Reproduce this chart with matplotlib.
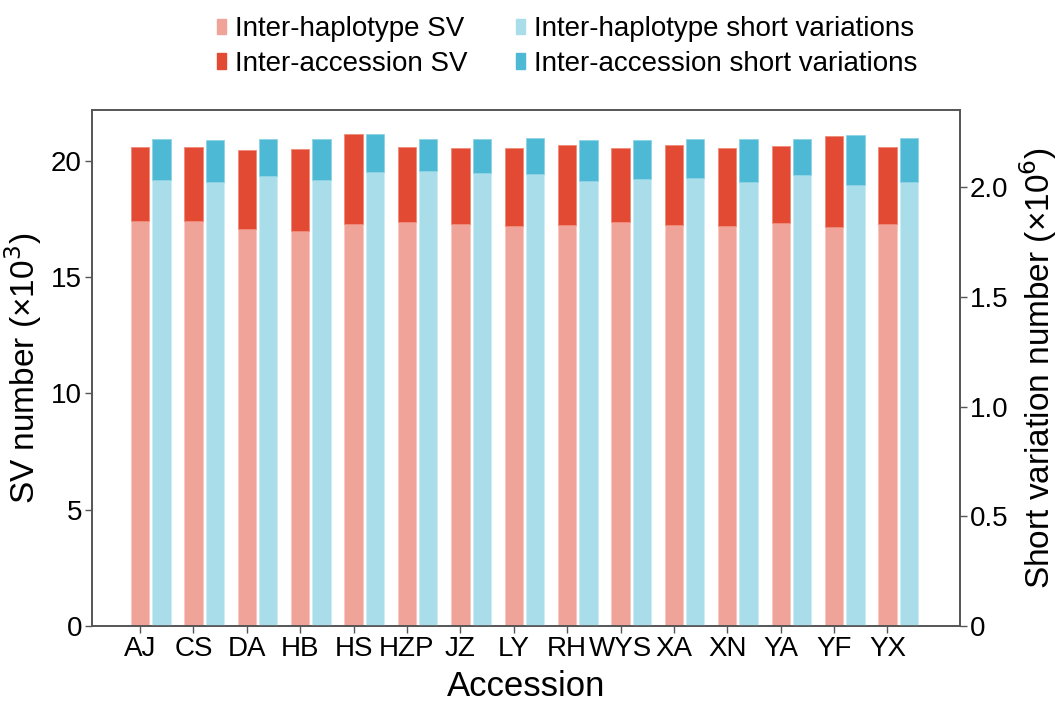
import matplotlib
matplotlib.use("Agg")
import matplotlib.pyplot as plt
import numpy as np
from matplotlib.patches import Patch

plt.rcParams['font.family'] = ['Liberation Sans', 'DejaVu Sans']

accessions = ["AJ", "CS", "DA", "HB", "HS", "HZP", "JZ", "LY", "RH", "WYS", "XA", "XN", "YA", "YF", "YX"]
# SV numbers (x10^3)
sv_total = [20.60, 20.58, 20.44, 20.51, 21.13, 20.57, 20.54, 20.54, 20.66, 20.54, 20.67, 20.54, 20.63, 21.06, 20.57]
sv_haplotype = [17.42, 17.40, 17.05, 17.00, 17.28, 17.35, 17.29, 17.20, 17.23, 17.36, 17.23, 17.19, 17.31, 17.13, 17.29]
# Short variation numbers (x10^6)
sn_total = [2.220, 2.216, 2.220, 2.220, 2.240, 2.220, 2.220, 2.222, 2.213, 2.214, 2.220, 2.220, 2.220, 2.237, 2.222]
sn_haplotype = [2.030, 2.024, 2.050, 2.030, 2.067, 2.074, 2.064, 2.061, 2.029, 2.035, 2.041, 2.024, 2.053, 2.008, 2.024]

sv_accession = [t - h for t, h in zip(sv_total, sv_haplotype)]
sn_accession = [t - h for t, h in zip(sn_total, sn_haplotype)]

c_hap_sv = "#F0A398"
c_acc_sv = "#E34A33"
c_hap_sn = "#A8DDE9"
c_acc_sn = "#4DB9D5"

fig = plt.figure(figsize=(10.64, 7.17), dpi=100)
ax = fig.add_axes([0.0862, 0.1269, 0.9023 - 0.0862, 0.8466 - 0.1269])
ax2 = ax.twinx()

x = np.arange(len(accessions))
w = 0.343
off = 0.40

ax.bar(x, sv_haplotype, w, color=c_hap_sv, edgecolor="#F7C8C0", linewidth=0.6, zorder=2)
ax.bar(x, sv_accession, w, bottom=sv_haplotype, color=c_acc_sv, edgecolor="#F08A78", linewidth=0.6, zorder=2)
ax2.bar(x + off, sn_haplotype, w, color=c_hap_sn, edgecolor="#CDEDF4", linewidth=0.6, zorder=2)
ax2.bar(x + off, sn_accession, w, bottom=sn_haplotype, color=c_acc_sn, edgecolor="#8ED3E6", linewidth=0.6, zorder=2)

ax.set_xlim(-0.905, 15.36)
ax.set_ylim(0, 22.18)
ax2.set_ylim(0, 2.351)

ax.set_yticks([0, 5, 10, 15, 20])
ax.set_yticklabels(["0", "5", "10", "15", "20"])
ax2.set_yticks([0, 0.5, 1.0, 1.5, 2.0])
ax2.set_yticklabels(["0", "0.5", "1.0", "1.5", "2.0"])
ax.set_xticks(x)
ax.set_xticklabels(accessions)

for a in (ax, ax2):
    for s in a.spines.values():
        s.set_color("#555555")
        s.set_linewidth(1.2)
    a.tick_params(axis='both', labelsize=20, color="#555555", length=5, width=1.0, pad=2)

ax.set_ylabel("SV number (×10$^{3}$)", fontsize=24, labelpad=5)
ax2.set_ylabel("Short variation number (×10$^{6}$)", fontsize=24, labelpad=6)
ax.set_xlabel("Accession", fontsize=25, labelpad=6)

handles = [Patch(color=c_hap_sv), Patch(color=c_acc_sv), Patch(color=c_hap_sn), Patch(color=c_acc_sn)]
labels = ["Inter-haplotype SV", "Inter-accession SV", "Inter-haplotype short variations", "Inter-accession short variations"]
fig.legend(handles, labels, ncol=2, loc="upper left", bbox_to_anchor=(0.18, 1.012),
           frameon=False, fontsize=20, handlelength=0.35, handleheight=0.5, handletextpad=0.3,
           columnspacing=1.75, labelspacing=0.3)

fig.savefig("out.png", dpi=100)
